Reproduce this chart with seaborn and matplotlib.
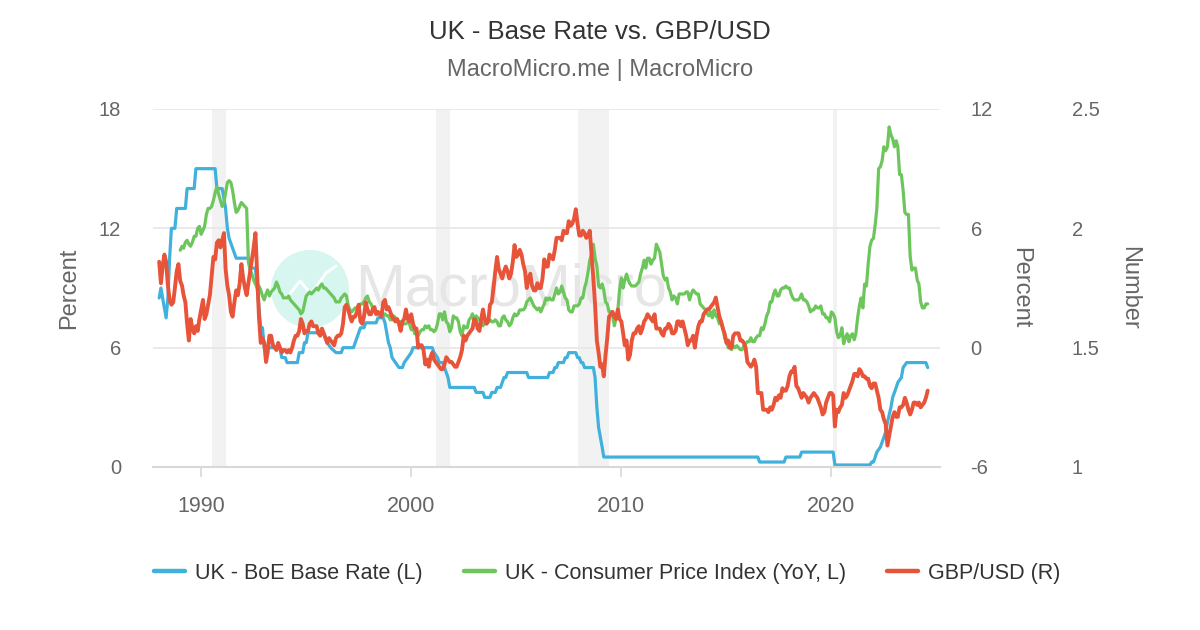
import matplotlib
matplotlib.use("Agg")
import matplotlib.pyplot as plt
from matplotlib import font_manager
from matplotlib.lines import Line2D
from matplotlib.patches import Ellipse
import pandas as pd
import seaborn as sns

# ---- data ----
# BoE base rate, corner points of the monthly line (%)
BASE_MONTHS = [
    "1988-01", "1988-02", "1988-03", "1988-05", "1988-06", "1988-07", "1988-08", "1988-10",
    "1988-11", "1989-04", "1989-05", "1989-09", "1989-10", "1990-09", "1990-10", "1991-01",
    "1991-02", "1991-03", "1991-04", "1991-05", "1991-07", "1991-09", "1992-04", "1992-05",
    "1992-08", "1992-09", "1992-10", "1992-11", "1992-12", "1993-01", "1993-10", "1993-11",
    "1994-01", "1994-02", "1994-08", "1994-09", "1994-11", "1994-12", "1995-01", "1995-02",
    "1995-11", "1995-12", "1996-01", "1996-03", "1996-06", "1996-09", "1996-10", "1997-04",
    "1997-05", "1997-06", "1997-07", "1997-08", "1997-10", "1997-11", "1998-05", "1998-06",
    "1998-09", "1998-10", "1998-11", "1998-12", "1999-01", "1999-02", "1999-04", "1999-06",
    "1999-08", "1999-09", "1999-11", "2000-01", "2000-02", "2001-01", "2001-02", "2001-04",
    "2001-05", "2001-07", "2001-08", "2001-09", "2001-10", "2001-11", "2003-01", "2003-02",
    "2003-06", "2003-07", "2003-10", "2003-11", "2004-01", "2004-02", "2004-04", "2004-05",
    "2004-06", "2004-07", "2004-08", "2005-07", "2005-08", "2006-07", "2006-08", "2006-10",
    "2006-11", "2006-12", "2007-01", "2007-04", "2007-05", "2007-06", "2007-07", "2007-11",
    "2007-12", "2008-01", "2008-02", "2008-03", "2008-04", "2008-09", "2008-10", "2008-11",
    "2008-12", "2009-01", "2009-02", "2009-03", "2016-07", "2016-08", "2017-10", "2017-11",
    "2018-07", "2018-08", "2020-02", "2020-03", "2021-11", "2021-12", "2022-01", "2022-02",
    "2022-03", "2022-05", "2022-06", "2022-08", "2022-09", "2022-11", "2022-12", "2023-02",
    "2023-03", "2023-05", "2023-06", "2023-08", "2024-07", "2024-08",
]
BASE_RATE = [
    8.5, 9.0, 8.5, 7.5, 8.5, 10.5, 12.0, 12.0,
    13.0, 13.0, 14.0, 14.0, 15.0, 15.0, 14.0, 14.0,
    13.5, 13.0, 12.0, 11.5, 11.0, 10.5, 10.5, 10.0,
    10.0, 9.0, 8.0, 7.0, 7.0, 6.0, 6.0, 5.5,
    5.5, 5.25, 5.25, 5.75, 5.75, 6.25, 6.25, 6.75,
    6.75, 6.5, 6.25, 6.0, 5.75, 5.75, 6.0, 6.0,
    6.25, 6.5, 6.75, 7.0, 7.0, 7.25, 7.25, 7.5,
    7.5, 7.25, 6.75, 6.25, 6.0, 5.5, 5.25, 5.0,
    5.0, 5.25, 5.5, 5.75, 6.0, 6.0, 5.75, 5.5,
    5.25, 5.25, 5.0, 4.75, 4.5, 4.0, 4.0, 3.75,
    3.75, 3.5, 3.5, 3.75, 3.75, 4.0, 4.0, 4.25,
    4.5, 4.5, 4.75, 4.75, 4.5, 4.5, 4.75, 4.75,
    5.0, 5.0, 5.25, 5.25, 5.5, 5.5, 5.75, 5.75,
    5.5, 5.5, 5.25, 5.25, 5.0, 5.0, 4.5, 3.0,
    2.0, 1.5, 1.0, 0.5, 0.5, 0.25, 0.25, 0.5,
    0.5, 0.75, 0.75, 0.1, 0.1, 0.25, 0.25, 0.5,
    0.75, 1.0, 1.25, 1.75, 2.25, 3.0, 3.5, 4.0,
    4.25, 4.5, 5.0, 5.25, 5.25, 5.0,
]

# UK CPI YoY (%), monthly from Jan 1989
CPI_START = "1989-01-01"
CPI_YOY = [
    4.9, 5.1, 5.0, 5.3, 5.4, 5.2, 5.1, 5.3, 5.6, 5.6, 6.0, 6.1,   # 1989
    5.7, 5.9, 6.1, 6.7, 7.0, 7.0, 7.1, 7.4, 7.8, 8.1, 7.7, 7.4,   # 1990
    7.1, 7.3, 7.8, 8.3, 8.4, 8.3, 7.9, 7.3, 6.8, 6.9, 7.1, 7.3,   # 1991
    7.2, 7.1, 7.0, 4.3, 3.9, 3.7, 3.4, 3.2, 3.0, 3.1, 2.9, 2.6,   # 1992
    2.4, 2.7, 2.9, 2.6, 2.8, 2.9, 3.0, 3.3, 3.1, 2.8, 2.7, 2.5,   # 1993
    2.5, 2.5, 2.6, 2.4, 2.3, 2.2, 2.1, 2.0, 1.9, 1.7, 1.8, 2.2,   # 1994
    2.6, 2.7, 2.8, 2.7, 2.8, 2.9, 3.0, 2.9, 3.1, 3.2, 3.0, 3.0,   # 1995
    2.9, 2.8, 2.7, 2.6, 2.5, 2.3, 2.3, 2.3, 2.5, 2.6, 2.7, 2.6,   # 1996
    2.1, 1.9, 1.8, 1.9, 2.0, 2.0, 2.1, 2.2, 2.2, 2.3, 2.5, 2.6,   # 1997
    2.3, 2.2, 2.0, 1.9, 1.8, 1.7, 1.7, 1.8, 1.6, 1.7, 1.6, 1.6,   # 1998
    1.4, 1.4, 1.6, 1.5, 1.4, 1.3, 1.3, 1.2, 1.2, 1.2, 1.3, 1.2,   # 1999
    0.9, 1.0, 0.7, 0.7, 0.6, 0.8, 0.9, 0.9, 1.1, 1.0, 1.1, 0.9,   # 2000
    0.9, 0.8, 0.9, 1.2, 1.7, 1.7, 1.4, 1.8, 1.3, 1.2, 0.8, 1.0,   # 2001
    1.6, 1.5, 1.5, 1.3, 0.8, 0.6, 1.1, 1.0, 1.0, 1.4, 1.5, 1.7,   # 2002
    1.3, 1.6, 1.5, 1.4, 1.3, 1.1, 1.3, 1.4, 1.4, 1.4, 1.3, 1.3,   # 2003
    1.4, 1.3, 1.1, 1.1, 1.5, 1.6, 1.4, 1.3, 1.1, 1.2, 1.5, 1.7,   # 2004
    1.6, 1.7, 1.9, 1.9, 1.9, 2.0, 2.3, 2.4, 2.5, 2.3, 2.1, 2.0,   # 2005
    1.9, 2.0, 1.8, 2.0, 2.2, 2.5, 2.4, 2.5, 2.4, 2.4, 2.7, 3.0,   # 2006
    2.7, 2.8, 3.1, 2.8, 2.5, 2.4, 1.9, 1.8, 1.8, 2.1, 2.1, 2.1,   # 2007
    2.2, 2.5, 2.5, 3.0, 3.3, 3.8, 4.4, 4.7, 5.2, 4.5, 4.1, 3.1,   # 2008
    3.0, 3.2, 2.9, 2.3, 2.2, 1.8, 1.8, 1.6, 1.1, 1.5, 1.9, 2.9,   # 2009
    3.5, 3.0, 3.4, 3.7, 3.4, 3.2, 3.1, 3.1, 3.1, 3.2, 3.3, 3.7,   # 2010
    4.0, 4.4, 4.0, 4.5, 4.5, 4.2, 4.4, 4.5, 5.2, 5.0, 4.8, 4.2,   # 2011
    3.6, 3.4, 3.5, 3.0, 2.8, 2.4, 2.6, 2.5, 2.2, 2.7, 2.7, 2.7,   # 2012
    2.7, 2.8, 2.8, 2.4, 2.7, 2.9, 2.8, 2.7, 2.7, 2.2, 2.1, 2.0,   # 2013
    1.9, 1.7, 1.6, 1.8, 1.5, 1.9, 1.6, 1.5, 1.2, 1.3, 1.0, 0.5,   # 2014
    0.3, 0.0, 0.0, -0.1, 0.1, 0.0, 0.1, 0.0, -0.1, -0.1, 0.1, 0.2,  # 2015
    0.3, 0.3, 0.5, 0.3, 0.3, 0.5, 0.6, 0.6, 1.0, 0.9, 1.2, 1.6,   # 2016
    1.8, 2.3, 2.3, 2.7, 2.9, 2.6, 2.6, 2.9, 3.0, 3.0, 3.1, 3.0,   # 2017
    3.0, 2.7, 2.5, 2.4, 2.4, 2.4, 2.5, 2.7, 2.4, 2.4, 2.3, 2.1,   # 2018
    1.8, 1.9, 1.9, 2.1, 2.0, 2.0, 2.1, 1.7, 1.7, 1.5, 1.5, 1.3,   # 2019
    1.8, 1.7, 1.5, 0.8, 0.5, 0.6, 1.0, 0.2, 0.5, 0.7, 0.3, 0.6,   # 2020
    0.7, 0.4, 0.7, 1.5, 2.1, 2.5, 2.0, 3.2, 3.1, 4.2, 5.1, 5.4,   # 2021
    5.5, 6.2, 7.0, 9.0, 9.1, 9.4, 10.1, 9.9, 10.1, 11.1, 10.7, 10.5,  # 2022
    10.1, 10.4, 10.1, 8.7, 8.7, 7.9, 6.8, 6.7, 6.7, 4.6, 3.9, 4.0,  # 2023
    4.0, 3.4, 3.2, 2.3, 2.0, 2.0, 2.2, 2.2,                          # 2024
]

# GBP/USD, monthly from Jan 1988
FX_START = "1988-01-01"
GBP_USD = [
    1.86, 1.77, 1.84, 1.89, 1.86, 1.76, 1.70, 1.68, 1.69, 1.75, 1.82, 1.85,  # 1988
    1.78, 1.76, 1.72, 1.69, 1.60, 1.53, 1.62, 1.58, 1.56, 1.59, 1.57, 1.62,  # 1989
    1.66, 1.70, 1.62, 1.64, 1.68, 1.72, 1.80, 1.88, 1.87, 1.94, 1.95, 1.92,  # 1990
    1.95, 1.98, 1.83, 1.76, 1.72, 1.65, 1.63, 1.69, 1.74, 1.72, 1.77, 1.85,  # 1991
    1.79, 1.75, 1.72, 1.77, 1.82, 1.87, 1.92, 1.98, 1.80, 1.63, 1.52, 1.54,  # 1992
    1.52, 1.44, 1.48, 1.55, 1.55, 1.51, 1.50, 1.49, 1.52, 1.50, 1.48, 1.49,  # 1993
    1.49, 1.48, 1.49, 1.48, 1.50, 1.53, 1.55, 1.55, 1.57, 1.62, 1.60, 1.56,  # 1994
    1.57, 1.57, 1.60, 1.61, 1.59, 1.59, 1.59, 1.56, 1.55, 1.58, 1.56, 1.54,  # 1995
    1.52, 1.54, 1.53, 1.52, 1.51, 1.54, 1.55, 1.55, 1.56, 1.60, 1.67, 1.68,  # 1996
    1.66, 1.63, 1.61, 1.63, 1.63, 1.65, 1.68, 1.61, 1.60, 1.63, 1.69, 1.66,  # 1997
    1.64, 1.64, 1.66, 1.67, 1.64, 1.65, 1.64, 1.63, 1.69, 1.70, 1.66, 1.67,  # 1998
    1.65, 1.63, 1.62, 1.61, 1.62, 1.60, 1.57, 1.61, 1.62, 1.66, 1.62, 1.61,  # 1999
    1.64, 1.60, 1.58, 1.58, 1.50, 1.51, 1.51, 1.49, 1.43, 1.45, 1.42, 1.46,  # 2000
    1.48, 1.45, 1.44, 1.43, 1.42, 1.41, 1.41, 1.43, 1.46, 1.45, 1.44, 1.44,  # 2001
    1.43, 1.42, 1.42, 1.44, 1.46, 1.49, 1.55, 1.53, 1.55, 1.56, 1.57, 1.58,  # 2002
    1.62, 1.61, 1.58, 1.57, 1.62, 1.66, 1.62, 1.60, 1.61, 1.68, 1.69, 1.75,  # 2003
    1.82, 1.88, 1.83, 1.81, 1.79, 1.82, 1.84, 1.82, 1.79, 1.81, 1.86, 1.93,  # 2004
    1.88, 1.89, 1.91, 1.89, 1.85, 1.82, 1.75, 1.79, 1.81, 1.76, 1.74, 1.74,  # 2005
    1.77, 1.75, 1.75, 1.79, 1.87, 1.84, 1.84, 1.89, 1.88, 1.87, 1.91, 1.96,  # 2006
    1.96, 1.96, 1.95, 1.99, 1.98, 1.98, 2.03, 2.01, 2.02, 2.04, 2.08, 2.02,  # 2007
    1.97, 1.97, 1.99, 1.98, 1.96, 1.97, 1.99, 1.89, 1.79, 1.68, 1.53, 1.48,  # 2008
    1.42, 1.43, 1.38, 1.47, 1.54, 1.63, 1.64, 1.65, 1.63, 1.62, 1.66, 1.62,  # 2009
    1.61, 1.56, 1.51, 1.53, 1.45, 1.47, 1.53, 1.56, 1.56, 1.58, 1.59, 1.56,  # 2010
    1.58, 1.61, 1.62, 1.64, 1.63, 1.62, 1.61, 1.64, 1.58, 1.58, 1.58, 1.56,  # 2011
    1.55, 1.58, 1.58, 1.60, 1.59, 1.56, 1.56, 1.57, 1.61, 1.61, 1.59, 1.61,  # 2012
    1.58, 1.55, 1.51, 1.53, 1.53, 1.55, 1.50, 1.55, 1.59, 1.61, 1.61, 1.64,  # 2013
    1.65, 1.66, 1.66, 1.67, 1.68, 1.69, 1.71, 1.67, 1.63, 1.61, 1.58, 1.56,  # 2014
    1.52, 1.53, 1.50, 1.50, 1.55, 1.56, 1.56, 1.56, 1.53, 1.53, 1.52, 1.50,  # 2015
    1.44, 1.43, 1.42, 1.43, 1.45, 1.42, 1.31, 1.31, 1.31, 1.24, 1.24, 1.24,  # 2016
    1.23, 1.25, 1.24, 1.26, 1.29, 1.28, 1.30, 1.29, 1.33, 1.32, 1.32, 1.34,  # 2017
    1.38, 1.40, 1.40, 1.42, 1.34, 1.33, 1.31, 1.29, 1.31, 1.30, 1.29, 1.27,  # 2018
    1.29, 1.30, 1.31, 1.30, 1.29, 1.27, 1.25, 1.22, 1.23, 1.27, 1.29, 1.31,  # 2019
    1.31, 1.30, 1.17, 1.24, 1.23, 1.25, 1.26, 1.31, 1.29, 1.30, 1.32, 1.34,  # 2020
    1.36, 1.39, 1.39, 1.38, 1.41, 1.40, 1.38, 1.38, 1.37, 1.37, 1.34, 1.33,  # 2021
    1.35, 1.35, 1.32, 1.29, 1.24, 1.23, 1.20, 1.18, 1.09, 1.13, 1.17, 1.21,  # 2022
    1.23, 1.21, 1.21, 1.25, 1.25, 1.26, 1.29, 1.27, 1.24, 1.22, 1.24, 1.27,  # 2023
    1.27, 1.26, 1.27, 1.25, 1.26, 1.27, 1.29, 1.32,                          # 2024
]

# shaded recession periods
REC_START = ["1990-07-01", "2001-03-01", "2007-12-01", "2020-02-01"]
REC_END = ["1991-03-01", "2001-11-01", "2009-06-01", "2020-04-01"]

BLUE, GREEN, RED = "#40b0dd", "#6cc65c", "#e8543a"
GREY = "#666666"

sns.set_theme(style="white")
names = {f.name for f in font_manager.fontManager.ttflist}
plt.rcParams["font.family"] = ["Liberation Sans", "DejaVu Sans"]
plt.rcParams["axes.unicode_minus"] = False
NARROW = ["Liberation Sans Narrow", "Liberation Sans"] if "Liberation Sans Narrow" in names else ["Liberation Sans", "DejaVu Sans"]

base = pd.DataFrame({"date": pd.to_datetime(BASE_MONTHS), "rate": BASE_RATE})
cpi = pd.DataFrame({"date": pd.date_range(CPI_START, periods=len(CPI_YOY), freq="MS"), "yoy": CPI_YOY})
fx = pd.DataFrame({"date": pd.date_range(FX_START, periods=len(GBP_USD), freq="MS"), "fx": GBP_USD})

fig = plt.figure(figsize=(12, 6.3), dpi=100)
ax = fig.add_axes([153 / 1200, 1 - 467 / 630, 787 / 1200, 358 / 630])
ax2 = ax.twinx()
ax3 = ax.twinx()

for s, e in zip(REC_START, REC_END):
    ax.axvspan(pd.Timestamp(s), pd.Timestamp(e), color="#f2f2f2", lw=0, zorder=0)

# watermark
ax.add_patch(Ellipse((310 / 1200, 1 - 289 / 630), 78 / 1200, 78 / 630, transform=fig.transFigure,
                     color="#d6f6ef", lw=0, zorder=0.5))
ax.plot([285 / 1200, 300 / 1200, 311 / 1200, 326 / 1200, 336 / 1200],
        [1 - 300 / 630, 1 - 281 / 630, 1 - 294 / 630, 1 - 273 / 630, 1 - 266 / 630],
        transform=fig.transFigure, color="white", lw=2, zorder=0.6)
ax.text(355 / 1200, 1 - 290 / 630, "MacroMicro", transform=fig.transFigure, fontsize=43,
        color="#e6e6e6", ha="left", va="center", zorder=0.5)

sns.lineplot(data=base, x="date", y="rate", ax=ax, color=BLUE, linewidth=2.3)
sns.lineplot(data=cpi, x="date", y="yoy", ax=ax2, color=GREEN, linewidth=2.3)
sns.lineplot(data=fx, x="date", y="fx", ax=ax3, color=RED, linewidth=2.8)

ax.set_xlim(pd.Timestamp("1987-09-16"), pd.Timestamp("2025-03-03"))
ax.set_ylim(0, 18)
ax2.set_ylim(-6, 12)
ax3.set_ylim(1, 2.5)
ax.set_yticks([0, 6, 12, 18])
ax2.set_yticks([-6, 0, 6, 12])
ax3.set_yticks([1, 1.5, 2, 2.5])
ax3.set_yticklabels(["1", "1.5", "2", "2.5"])
ax.set_xticks(pd.to_datetime(["1990-01-01", "2000-01-01", "2010-01-01", "2020-01-01"]))
ax.set_xticklabels(["1990", "2000", "2010", "2020"])

ax.grid(axis="y", color="#e6e6e6", lw=1.2)
ax.grid(axis="x", visible=False)
for a in (ax, ax2, ax3):
    for side in ("top", "left", "right", "bottom"):
        a.spines[side].set_visible(False)
    a.set_xlabel("")
ax.spines["bottom"].set_visible(True)
ax.spines["bottom"].set_color("#d8d8d8")
ax.spines["bottom"].set_linewidth(1.5)

ax.tick_params(axis="y", length=0, pad=23, labelsize=14.5, labelcolor=GREY)
ax2.tick_params(axis="y", length=0, pad=22, labelsize=14.5, labelcolor=GREY)
ax3.tick_params(axis="y", length=0, pad=95, labelsize=14.5, labelcolor=GREY)
ax.tick_params(axis="x", bottom=True, length=7, width=1.2, color="#d8d8d8", pad=14,
               labelsize=14.5, labelcolor=GREY)
for lab in ax.get_xticklabels():
    lab.set_family(NARROW)
    lab.set_fontsize(15.5)

ax.set_ylabel("Percent", fontsize=17, color=GREY, va="center")
ax.yaxis.set_label_coords(-0.106, 0.5)
ax2.set_ylabel("Percent", fontsize=17, color=GREY, rotation=270, va="center")
ax2.yaxis.set_label_coords(1.102, 0.5)
ax3.set_ylabel("Number", fontsize=17, color=GREY, rotation=270, va="center")
ax3.yaxis.set_label_coords(1.240, 0.5)

fig.text(0.5, 1 - 32 / 630, "UK - Base Rate vs. GBP/USD", ha="center", va="center",
         fontsize=18.5, color="#333333")
fig.text(0.5, 1 - 70 / 630, "MacroMicro.me | MacroMicro", ha="center", va="center",
         fontsize=17, color=GREY)

handles = [Line2D([], [], color=c, lw=3.2) for c in (BLUE, GREEN, RED)]
labels = ["UK - BoE Base Rate (L)", "UK - Consumer Price Index (YoY, L)", "GBP/USD (R)"]
leg = fig.legend(handles, labels, loc="center", bbox_to_anchor=(0.506, 1 - 573 / 630), ncol=3,
                 frameon=False, prop={"family": NARROW, "size": 15.5}, handlelength=1.44,
                 handletextpad=0.46, columnspacing=1.9)
for t in leg.get_texts():
    t.set_color("#333333")

fig.savefig("out.png", dpi=100, facecolor="white")
